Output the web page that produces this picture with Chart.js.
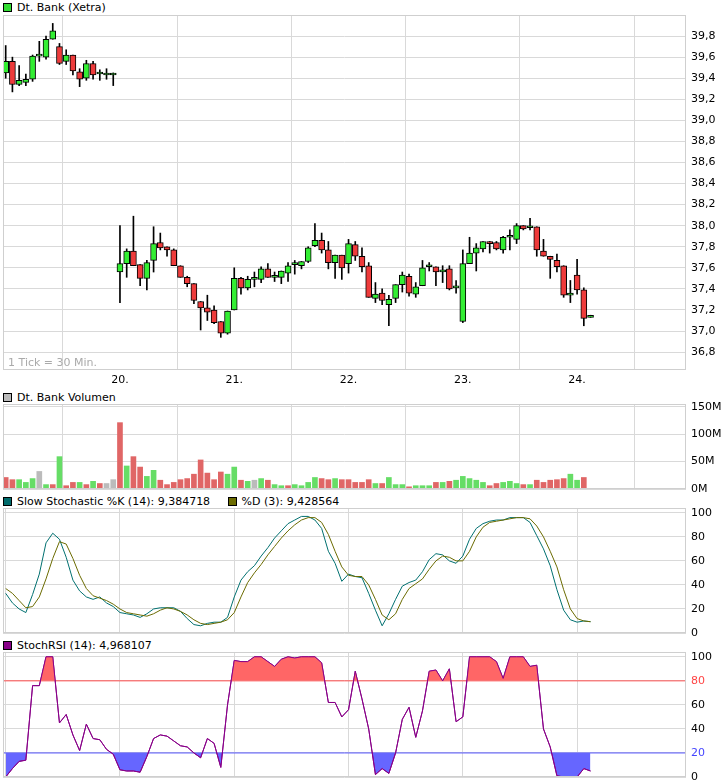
<!DOCTYPE html>
<html><head><meta charset="utf-8">
<script src="https://cdn.jsdelivr.net/npm/chart.js@4"></script>
<style>
body{margin:0;background:#fff;width:726px;height:784px;position:relative;overflow:hidden;font-family:"DejaVu Sans",Verdana,sans-serif;font-size:11px;color:#000}
.t{position:absolute;left:3px;font-size:11px;white-space:nowrap}
.sq{display:inline-block;width:7px;height:7px;border:1px solid #000;margin-right:5px;vertical-align:-1px}
canvas{position:absolute}
</style></head><body>
<div class="t" style="top:1px"><span class="sq" style="background:#33dd33"></span>Dt. Bank (Xetra)</div>
<div class="t" style="top:391px"><span class="sq" style="background:#bbbbbb"></span>Dt. Bank Volumen</div>
<div class="t" style="top:495px"><span class="sq" style="background:#006b6b"></span>Slow Stochastic %K (14): 9,384718 &nbsp; &nbsp; <span class="sq" style="background:#6b6b00"></span>%D (3): 9,428564</div>
<div class="t" style="top:639px"><span class="sq" style="background:#880088"></span>StochRSI (14): 4,968107</div>
<canvas id="c1" style="left:3px;top:15px" width="723" height="375"></canvas>
<div class="t" style="top:356px;left:8px;color:#aaa">1 Tick = 30 Min.</div>
<canvas id="c2" style="left:3px;top:397px" width="723" height="99"></canvas>
<canvas id="c3" style="left:3px;top:501px" width="723" height="139"></canvas>
<canvas id="c4" style="left:3px;top:645px" width="723" height="139"></canvas>
<script>
const dayLabels = {17:'20.',34:'21.',51:'22.',68:'23.',85:'24.'};
const opens  = [39.45,39.56,39.34,39.36,39.39,39.61,39.60,39.77,39.70,39.56,39.62,39.46,39.40,39.54,39.44,39.43,39.43,
37.56,37.64,37.76,37.63,37.50,37.67,37.84,37.80,37.77,37.62,37.51,37.45,37.28,37.22,37.20,37.09,36.98,
37.20,37.50,37.41,37.49,37.49,37.59,37.51,37.51,37.55,37.63,37.62,37.66,37.81,37.86,37.77,37.65,37.72,
37.64,37.82,37.71,37.62,37.31,37.36,37.25,37.31,37.44,37.52,37.35,37.43,37.61,37.61,37.56,37.59,37.41,
37.09,37.64,37.74,37.78,37.85,37.84,37.77,37.89,37.87,38.00,37.98,37.99,37.76,37.71,37.67,37.62,37.34,
37.53,37.39,37.13];
const closes = [39.56,39.34,39.38,39.39,39.61,39.61,39.77,39.85,39.54,39.62,39.47,39.39,39.54,39.43,39.44,39.43,39.43,
37.64,37.76,37.62,37.50,37.65,37.83,37.79,37.77,37.62,37.51,37.45,37.29,37.22,37.18,37.08,36.98,37.19,
37.50,37.41,37.49,37.49,37.59,37.51,37.51,37.57,37.62,37.63,37.66,37.79,37.86,37.77,37.65,37.72,37.60,
37.83,37.71,37.61,37.32,37.35,37.29,37.30,37.44,37.53,37.36,37.42,37.60,37.61,37.56,37.58,37.40,37.41,
37.64,37.74,37.79,37.85,37.83,37.78,37.89,37.89,38.00,37.97,37.98,37.77,37.71,37.68,37.61,37.34,37.36,
37.39,37.12,37.15];
const highs  = [39.71,39.60,39.52,39.44,39.62,39.75,39.80,39.92,39.73,39.67,39.62,39.49,39.57,39.56,39.48,39.49,39.45,
38.00,37.78,38.09,37.63,37.67,37.99,37.93,37.80,37.78,37.62,37.52,37.45,37.28,37.34,37.24,37.09,37.19,
37.60,37.51,37.52,37.56,37.61,37.64,37.56,37.57,37.65,37.67,37.66,37.80,38.02,37.93,37.85,37.72,37.72,
37.87,37.85,37.79,37.65,37.46,37.40,37.34,37.44,37.56,37.54,37.46,37.67,37.65,37.61,37.62,37.62,37.48,
37.77,37.89,37.83,37.85,37.85,37.85,37.90,37.96,38.02,38.00,38.07,37.99,37.87,37.71,37.73,37.62,37.48,
37.68,37.41,37.15];
const lows   = [39.40,39.27,39.33,39.33,39.37,39.56,39.58,39.77,39.53,39.53,39.43,39.32,39.38,39.39,39.38,39.39,39.33,
37.27,37.51,37.62,37.43,37.39,37.56,37.77,37.71,37.62,37.51,37.42,37.26,37.01,37.10,37.07,36.94,36.97,
37.20,37.35,37.39,37.42,37.46,37.51,37.47,37.45,37.47,37.54,37.59,37.65,37.80,37.74,37.59,37.50,37.49,
37.55,37.67,37.56,37.32,37.27,37.25,37.05,37.27,37.37,37.33,37.32,37.43,37.57,37.43,37.46,37.39,37.36,
37.08,37.64,37.57,37.75,37.74,37.77,37.74,37.77,37.83,37.96,37.96,37.71,37.71,37.50,37.56,37.32,37.27,
37.35,37.05,37.13];
const volumes = [21,17,17,12,19,32,8,8,59,6,12,12,8,14,10,10,17,
121,42,59,40,23,34,16,8,12,17,19,27,53,29,17,31,27,
40,16,14,16,19,16,8,6,6,8,6,12,21,19,17,19,17,
17,12,12,17,10,10,21,8,8,4,6,6,6,12,12,14,16,
23,19,16,12,6,10,12,14,10,8,8,16,12,16,17,19,27,
16,21];
const volKinds = 'rrgggngrgrrgrgrn'+'n'+'rgrrggrrrrrrrrrrg'+'grgngrggrggggrrgr'+'rrrrgrgggrgggrgrg'+'ggggrrgggrgrrrrrg'+'gr';
const stochK = [33,25,20,17,32,49,75,83,78,63,44,35,30,28,30,25,22,17,16,15,13,16,20,21,21,21,18,12,7,6,8,9,9,13,
30,44,51,56,64,71,79,85,91,94,97,97,94,87,68,58,43,49,47,46,33,19,6,16,28,39,42,44,51,61,66,65,60,58,
64,78,87,91,93,94,94,96,96,96,92,81,70,56,36,19,11,9,10,9.4];
const stochD = [37,33,27,21,22,30,45,62,76,74,62,48,37,31,29,27,24,20,17,16,15,14,16,19,21,20,18,15,11,8,7,8,9,11,
17,30,42,50,57,65,72,79,85,90,94,96,96,92,82,68,55,48,47,47,40,28,15,11,16,28,37,41,45,53,60,64,63,60,
60,68,80,88,92,93,94,95,96,96,95,89,80,68,55,36,20,12,10,9.4];
const stochRSI = [0,7,13,14,76,76,100,100,45,52,35,22,44,32,31,23,19,6,5,5,4,17,32,35,34,30,26,25,20,16,32,28,8,60,
97,96,96,100,100,96,92,98,100,99,100,100,100,95,62,62,50,56,88,65,40,2,7,3,20,48,58,33,55,88,89,80,90,46,
50,100,100,100,100,96,82,100,100,100,92,93,40,25,1,0,0,0,7,5];
const priceTicks=[36.8,37.0,37.2,37.4,37.6,37.8,38.0,38.2,38.4,38.6,38.8,39.0,39.2,39.4,39.6,39.8];
const volTicks=[0,50,100,150], stochTicks=[0,20,40,60,80,100];

const FONT={family:'"DejaVu Sans",Verdana,sans-serif',size:11};
const GRID='#d9d9d9';
const xs=i=>i;
const border={id:'bd',afterDraw(c){const a=c.chartArea,x=c.ctx;x.save();x.strokeStyle='#cfcfcf';x.lineWidth=1;x.strokeRect(Math.round(a.left)+0.5,Math.round(a.top)+0.5,Math.round(a.right-a.left)-1,Math.round(a.bottom-a.top)-1);x.restore();}};
function zeroPad(s){s.paddingTop=0;s.paddingBottom=0;s.paddingLeft=0;s.paddingRight=0;}
function xScale(showLabels){
  return {type:'linear',min:-0.4,max:101.2,offset:false,
    afterBuildTicks(s){s.ticks=[0,17,34,51,68,85].map(v=>({value:v}));},
    afterFit(s){s.height=showLabels?20:0;zeroPad(s);},
    grid:{color:GRID,drawTicks:false},border:{display:false},
    ticks:{display:showLabels,font:FONT,color:'#000',padding:4,maxRotation:0,callback:v=>dayLabels[v]||''}};
}
function yScale(min,max,ticks,cb,colorFn){
  return {position:'right',min,max,
    afterBuildTicks(s){s.ticks=ticks.map(v=>({value:v}));},
    afterFit(s){s.width=40;zeroPad(s);},
    grid:{color:GRID,drawTicks:false},border:{display:false},
    ticks:{font:FONT,color:colorFn||'#000',padding:5,callback:cb}};
}
const base={responsive:false,animation:false,events:[],plugins:{legend:{display:false},tooltip:{enabled:false}},layout:{padding:0}};
const padded={...base,layout:{padding:{top:7,bottom:7}}};

new Chart(document.getElementById('c1'),{type:'bar',
  data:{datasets:[
    {data:highs.map((h,i)=>({x:xs(i),y:[lows[i],h]})),backgroundColor:'#000',barThickness:1,grouped:false,order:2},
    {data:opens.map((o,i)=>({x:xs(i),y:[o,closes[i]]})),backgroundColor:opens.map((o,i)=>closes[i]>=o?'#33ee33':'#ee3b3b'),
     borderColor:'#000',borderWidth:1,borderSkipped:false,barThickness:6,minBarLength:2,grouped:false,order:1}]},
  options:{...base,scales:{x:xScale(true),y:yScale(36.63,40.0,priceTicks,v=>v.toFixed(1).replace('.',','))}},
  plugins:[border]});

const vc={r:'#e06666',g:'#66dd66',n:'#bbbbbb'};
new Chart(document.getElementById('c2'),{type:'bar',
  data:{datasets:[{data:volumes.map((v,i)=>({x:xs(i),y:v})),backgroundColor:volumes.map((v,i)=>vc[volKinds[i]]||vc.r),barThickness:5}]},
  options:{...padded,scales:{x:xScale(false),y:yScale(0,155,volTicks,v=>v+'M')}},plugins:[border]});

new Chart(document.getElementById('c3'),{type:'line',
  data:{datasets:[
    {data:stochD.map((v,i)=>({x:xs(i),y:v})),borderColor:'#6b6b00',borderWidth:1,pointRadius:0,tension:0},
    {data:stochK.map((v,i)=>({x:xs(i),y:v})),borderColor:'#007070',borderWidth:1,pointRadius:0,tension:0}]},
  options:{...padded,scales:{x:xScale(false),y:yScale(0,104,stochTicks,v=>v)}},plugins:[border]});

new Chart(document.getElementById('c4'),{type:'line',
  data:{datasets:[
    {data:stochRSI.map((v,i)=>({x:xs(i),y:v})),borderColor:'#880088',borderWidth:1,pointRadius:0,tension:0,
     fill:{value:80,above:'#ff6666',below:'rgba(0,0,0,0)'}},
    {data:stochRSI.map((v,i)=>({x:xs(i),y:v})),borderColor:'#880088',borderWidth:1,pointRadius:0,tension:0,
     fill:{value:20,above:'rgba(0,0,0,0)',below:'#6666ff'}},
    {data:[{x:-0.4,y:80},{x:101.2,y:80}],borderColor:'#ff5555',borderWidth:1,pointRadius:0},
    {data:[{x:-0.4,y:20},{x:101.2,y:20}],borderColor:'#5555ff',borderWidth:1,pointRadius:0}]},
  options:{...padded,scales:{x:xScale(false),y:yScale(0,104,stochTicks,v=>v,c=>c.tick.value===80?'#ff4444':c.tick.value===20?'#4444ff':'#000')}},plugins:[border]});
</script></body></html>
